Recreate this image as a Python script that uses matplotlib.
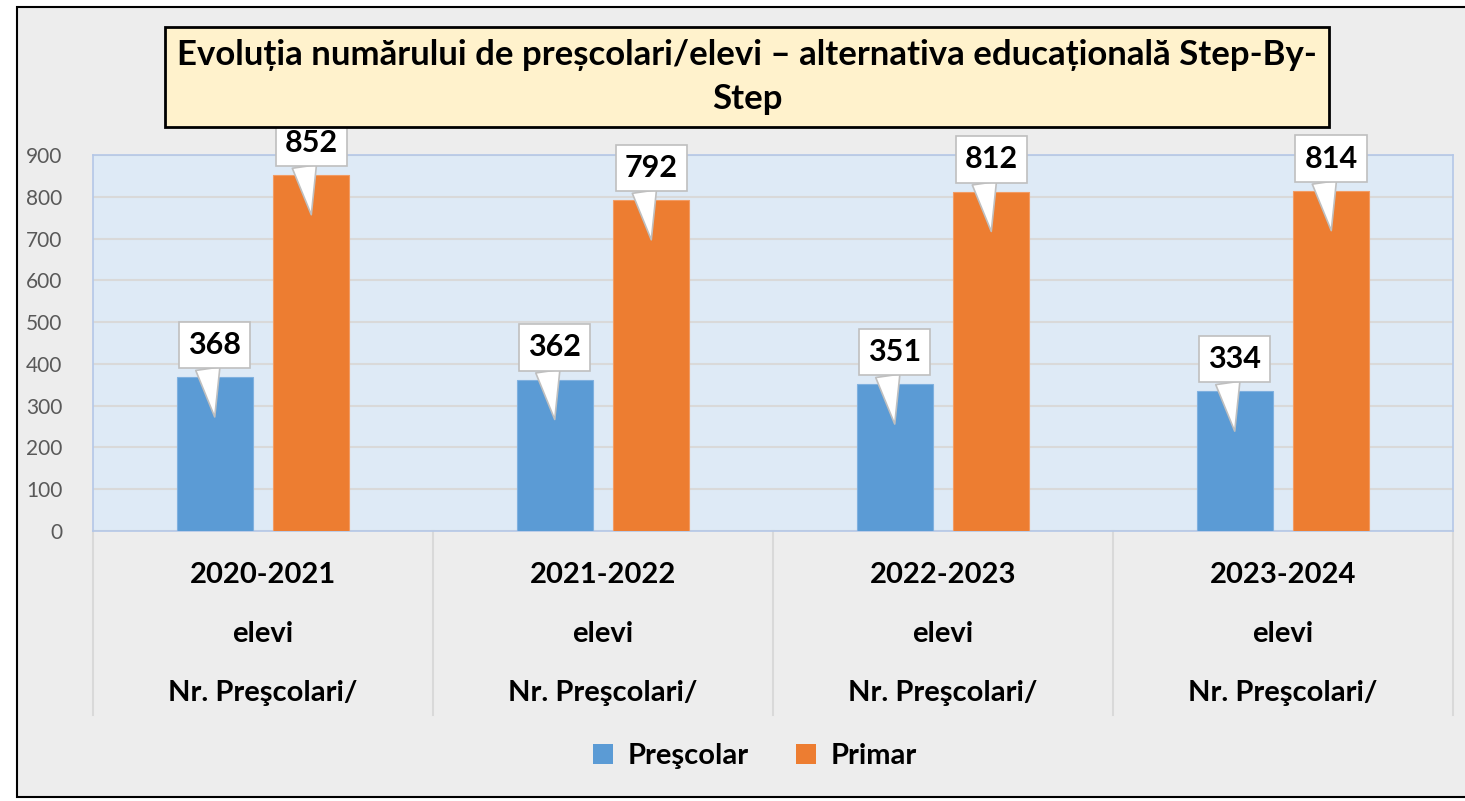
import matplotlib.pyplot as plt
from matplotlib.patches import Rectangle, Patch

plt.rcParams['font.family'] = ['Lato', 'DejaVu Sans']

# Data
years = ['2020-2021', '2021-2022', '2022-2023', '2023-2024']
prescolar = [368, 362, 351, 334]
primar = [852, 792, 812, 814]
series_names = ['Preşcolar', 'Primar']
colors = ['#5B9BD5', '#ED7D31']
title = 'Evoluția numărului de preșcolari/elevi – alternativa educațională Step-By-\nStep'

fig = plt.figure(figsize=(14.65, 8.01), dpi=100)
fig.patch.set_facecolor('white')

# outer chart frame
fig.patches.append(Rectangle((17 / 1465, 4 / 801), 1.0, 1 - 11 / 801,
                             transform=fig.transFigure, facecolor='#EDEDED',
                             edgecolor='black', linewidth=1.5, zorder=-1))

ax = fig.add_axes([93 / 1465, 1 - 531 / 801, 1360 / 1465, 376 / 801])
ax.set_facecolor('#DEEAF6')
for s in ax.spines.values():
    s.set_color('#B4C7E7')
    s.set_linewidth(1.2)

x = list(range(len(years)))
w = 0.224
off = 0.142
ax.bar([i - off for i in x], prescolar, width=w, color=colors[0],
       edgecolor='#7FB0DF', linewidth=0.8, zorder=3)
ax.bar([i + off for i in x], primar, width=w, color=colors[1],
       edgecolor='#F29B63', linewidth=0.8, zorder=3)

ax.set_xlim(-0.5, len(years) - 0.5)
ax.set_ylim(0, 900)
ax.set_yticks(range(0, 901, 100))
ax.tick_params(axis='y', length=0, labelsize=15, labelcolor='#595959', pad=22)
ax.set_xticks([])
ax.grid(axis='y', color='#D9D9D9', linewidth=1.5, zorder=0)

# callout labels
for xs, vals in ((([i - off for i in x]), prescolar), (([i + off for i in x]), primar)):
    for xi, v in zip(xs, vals):
        ax.annotate(str(v), xy=(xi, v - 95), xytext=(0, 72),
                    textcoords='offset pixels', ha='center', va='center',
                    fontsize=22, fontweight='bold', color='black', zorder=6,
                    annotation_clip=False,
                    bbox=dict(boxstyle='square,pad=0.3', facecolor='white',
                              edgecolor='#BFBFBF', linewidth=1.2),
                    arrowprops=dict(arrowstyle='wedge,tail_width=0.8',
                                    facecolor='white', edgecolor='#BFBFBF',
                                    linewidth=1.2, shrinkA=0, shrinkB=0,
                                    relpos=(0.34, 0.05)))

# multi-level category labels
tr = ax.get_xaxis_transform()
for i, yr in enumerate(years):
    ax.text(i, -0.117, yr, transform=tr, ha='center', va='center',
            fontsize=21, fontweight='bold')
    ax.text(i, -0.274, 'elevi', transform=tr, ha='center', va='center',
            fontsize=21, fontweight='bold')
    ax.text(i, -0.431, 'Nr. Preşcolari/', transform=tr, ha='center', va='center',
            fontsize=21, fontweight='bold')
for b in range(len(years) + 1):
    ax.plot([b - 0.5, b - 0.5], [0, -0.489], transform=tr, color='#D9D9D9',
            linewidth=1.5, clip_on=False)

# title
fig.text(747 / 1465, 1 - 77 / 801, title, ha='center', va='center',
         fontsize=25, fontweight='bold', linespacing=1.45,
         bbox=dict(boxstyle='square,pad=0.35', facecolor='#FFF2CC',
                   edgecolor='black', linewidth=2))

handles = [Patch(facecolor=c, label=n) for c, n in zip(colors, series_names)]
fig.legend(handles=handles, loc='center', bbox_to_anchor=(755 / 1465, 1 - 756 / 801),
           ncol=2, frameon=False, prop={'weight': 'bold', 'size': 21},
           handlelength=0.7, handleheight=0.7, handletextpad=0.5, columnspacing=1.6)

fig.savefig('out.png', dpi=100)
